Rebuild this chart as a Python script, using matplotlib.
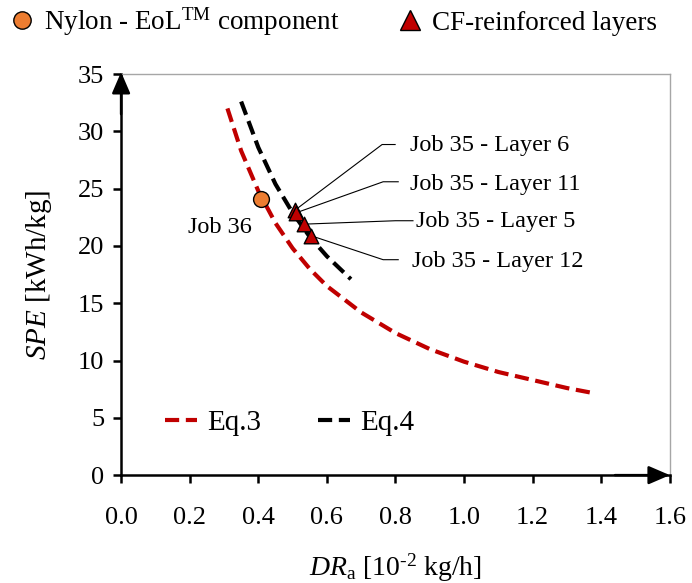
#!/usr/bin/env python3
import matplotlib as mpl
import matplotlib.pyplot as plt
from matplotlib.lines import Line2D

# Curve readings (DR_a in 1e-2 kg/h, SPE in kWh/kg)
eq3_x = [0.31, 0.35, 0.40, 0.45, 0.50, 0.55, 0.60, 0.70, 0.80, 0.90, 1.00, 1.10, 1.20, 1.30, 1.37]
eq3_y = [32.0, 28.3, 24.8, 22.0, 19.8, 18.0, 16.5, 14.2, 12.4, 11.0, 9.9, 9.0, 8.3, 7.6, 7.2]
eq4_x = [0.35, 0.40, 0.45, 0.50, 0.55, 0.60, 0.67]
eq4_y = [32.6, 28.6, 25.4, 22.9, 20.8, 19.1, 17.1]

# Measured points
nylon_x = [0.407]
nylon_y = [24.1]
cf_labels = ['Job 35 - Layer 6', 'Job 35 - Layer 11', 'Job 35 - Layer 5', 'Job 35 - Layer 12']
cf_x = [0.506, 0.511, 0.532, 0.553]
cf_y = [23.1, 22.9, 21.9, 20.9]

x_ticks = [0.0, 0.2, 0.4, 0.6, 0.8, 1.0, 1.2, 1.4, 1.6]
y_ticks = [0, 5, 10, 15, 20, 25, 30, 35]

RED = '#C00000'
ORANGE = '#ED7D31'

mpl.rcParams['font.family'] = ['Liberation Serif', 'DejaVu Serif']
mpl.rcParams['mathtext.fontset'] = 'custom'
mpl.rcParams['mathtext.rm'] = 'Liberation Serif'
mpl.rcParams['mathtext.it'] = 'Liberation Serif:italic'
mpl.rcParams['mathtext.bf'] = 'Liberation Serif:bold'

fig = plt.figure(figsize=(6.92, 5.83), dpi=100)
ax = fig.add_axes([0.175, 0.185, 0.793, 0.688])
ax.set_xlim(0, 1.6)
ax.set_ylim(0, 35)

# spines: black axes with arrows, grey frame top/right
for s in ['left', 'bottom']:
    ax.spines[s].set_linewidth(1.8)
    ax.spines[s].set_color('black')
for s in ['top', 'right']:
    ax.spines[s].set_linewidth(1.0)
    ax.spines[s].set_color('#A6A6A6')
arrow = dict(arrowstyle='-|>,head_length=0.65,head_width=0.28', color='black',
             lw=1.8, shrinkA=0, shrinkB=0, mutation_scale=20)
ax.annotate('', xy=(1, 0), xytext=(0.9, 0), xycoords='axes fraction',
            arrowprops=arrow, annotation_clip=False, zorder=5)
ax.annotate('', xy=(0, 1.005), xytext=(0, 0.9), xycoords='axes fraction',
            arrowprops=arrow, annotation_clip=False, zorder=5)

ax.set_xticks(x_ticks)
ax.set_xticklabels([f'{v:.1f}' for v in x_ticks])
ax.set_yticks(y_ticks)
ax.tick_params(axis='both', direction='out', length=6, width=1.8,
               labelsize=19, colors='black')
ax.tick_params(axis='x', pad=17)
ax.tick_params(axis='y', pad=6)

# model curves
l3, = ax.plot(eq3_x, eq3_y, color=RED, lw=3.0, dashes=(3.4, 1.6),
              dash_capstyle='butt', zorder=2)
l4, = ax.plot(eq4_x, eq4_y, color='black', lw=3.0, dashes=(3.4, 1.6),
              dash_capstyle='butt', zorder=2)

# leader lines for the CF layers: (knee x, knee y, end x) in data units
knees = [(0.761, 28.85, 0.799), (0.764, 25.6, 0.808),
         (0.80, 22.2, 0.851), (0.764, 18.8, 0.808)]
text_pos = [(0.843, 28.8), (0.843, 25.35), (0.86, 22.1), (0.848, 18.6)]
for px, py, (kx, ky, ex), (tx, ty), lab in zip(cf_x, cf_y, knees, text_pos, cf_labels):
    ax.plot([px, kx, ex], [py, ky, ky], color='black', lw=0.8, zorder=3)
    ax.text(tx, ty, lab, fontsize=17.5, ha='left', va='center')

ax.scatter(nylon_x, nylon_y, s=130, color=ORANGE, edgecolor='black',
           linewidth=1.0, zorder=6, clip_on=False)
ax.scatter(cf_x, cf_y, s=110, marker='^', color=RED, edgecolor='black',
           linewidth=1.0, zorder=6)
ax.text(0.289, 21.6, 'Job 36', fontsize=17.5, ha='center', va='center')

ax.set_xlabel(r'$\mathit{DR}_{\mathrm{a}}$ [10$^{\text{-2}}$ kg/h]', fontsize=20,
              labelpad=16)
ax.set_ylabel(r'$\mathit{SPE}$ [kWh/kg]', fontsize=21, labelpad=17)

# equation legend inside the axes
ax.legend([l3, l4], ['Eq.3', 'Eq.4'], ncol=2, frameon=False, fontsize=21,
          loc='center left', bbox_to_anchor=(0.08, 0.13), handlelength=1.1,
          handletextpad=0.35, columnspacing=1.95, borderaxespad=0, borderpad=0)

# marker legend above the plot
h1 = Line2D([], [], ls='none', marker='o', markersize=12.5, markerfacecolor=ORANGE,
            markeredgecolor='black', markeredgewidth=1.0)
h2 = Line2D([], [], ls='none', marker='^', markersize=15, markerfacecolor=RED,
            markeredgecolor='black', markeredgewidth=1.0)
fig.legend([h1, h2], [r'Nylon - EoL$^{\mathrm{TM}}$ component', 'CF-reinforced layers'],
           ncol=2, frameon=False, fontsize=19.5, loc='upper left',
           bbox_to_anchor=(0.005, 1.0), handletextpad=0.3, columnspacing=2.1,
           handlelength=1.0, borderaxespad=0, borderpad=0.2)

fig.savefig('out.png', dpi=100)
